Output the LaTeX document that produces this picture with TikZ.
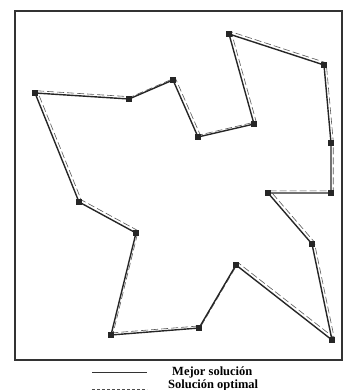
\documentclass[tikz,border=0pt]{standalone}
\usepackage{fontspec}
\setmainfont{Liberation Serif}
\usetikzlibrary{positioning}

\begin{document}
\begin{tikzpicture}[
  x=1pt, y=-1pt,
  city/.style={rectangle, fill=black!85, minimum size=6pt, inner sep=0pt},
  best/.style={draw=black!85, line width=1.4pt},
  opt/.style={draw=black!65, line width=0.6pt, dash pattern=on 7pt off 3pt},
  lab/.style={font=\bfseries\fontsize{12.5}{13}\selectfont, inner sep=0pt, anchor=west},
]
\useasboundingbox (0,0) rectangle (344,390);
% frame
\draw[black!80, line width=1.5pt] (15,11) rectangle (342,360);
% cities
\node[city] (c1) at (35,93) {};
\node[city] (c2) at (129,99) {};
\node[city] (c3) at (173,80) {};
\node[city] (c4) at (198,137) {};
\node[city] (c5) at (254,124) {};
\node[city] (c6) at (229,34) {};
\node[city] (c7) at (324,65) {};
\node[city] (c8) at (331,143) {};
\node[city] (c9) at (331,193) {};
\node[city] (c10) at (268,193) {};
\node[city] (c11) at (312,244) {};
\node[city] (c12) at (332,340) {};
\node[city] (c13) at (236,265) {};
\node[city] (c14) at (199,328) {};
\node[city] (c15) at (111,335) {};
\node[city] (c16) at (136,233) {};
\node[city] (c17) at (79,202) {};
% optimal tour (dashed, slightly offset)
\begin{scope}[transform canvas={shift={(2.2pt,2.2pt)}}]
\draw[opt] (c1.center) -- (c2.center) -- (c3.center) -- (c4.center) -- (c5.center)
  -- (c6.center) -- (c7.center) -- (c8.center) -- (c9.center) -- (c10.center)
  -- (c11.center) -- (c12.center) -- (c13.center) -- (c14.center) -- (c15.center)
  -- (c16.center) -- (c17.center) -- cycle;
\end{scope}
% best tour (solid)
\draw[best] (c1.center) -- (c2.center) -- (c3.center) -- (c4.center) -- (c5.center)
  -- (c6.center) -- (c7.center) -- (c8.center) -- (c9.center) -- (c10.center)
  -- (c11.center) -- (c12.center) -- (c13.center) -- (c14.center) -- (c15.center)
  -- (c16.center) -- (c17.center) -- cycle;
% redraw cities on top
\foreach \i in {1,...,17} {\fill[black!85] ([shift={(-3pt,-3pt)}]c\i.center) rectangle ([shift={(3pt,3pt)}]c\i.center);}
% legend
\coordinate (l1a) at (92,372);
\coordinate (l1b) at (147,372);
\coordinate (l2a) at (92,389);
\coordinate (l2b) at (147,389);
\draw[black!80, line width=0.7pt] (l1a) -- (l1b);
\draw[black!70, line width=0.7pt, dash pattern=on 3pt off 2pt] (l2a) -- (l2b);
\node[lab, right=25pt of l1b] (t1) {Mejor solución};
\node[lab, right=21pt of l2b, yshift=4pt] (t2) {Solución optimal};
\end{tikzpicture}
\end{document}
